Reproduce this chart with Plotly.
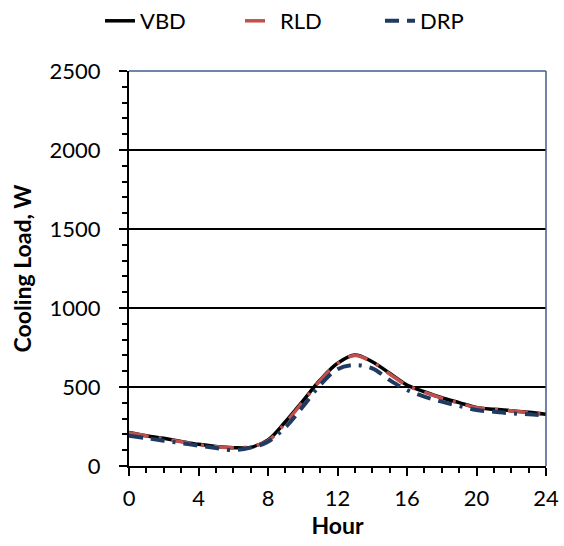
import plotly.graph_objects as go

hours = list(range(0, 25))
vbd = [213, 192, 175, 156, 137, 124, 116, 118, 165, 280, 411, 544, 650, 703, 660, 587,
       513, 470, 432, 401, 371, 359, 350, 340, 327]
rld = [210, 190, 172, 153, 135, 122, 115, 122, 160, 272, 405, 540, 648, 700, 658, 582,
       510, 468, 430, 398, 369, 358, 349, 339, 325]
drp = [192, 176, 160, 145, 129, 114, 101, 116, 154, 245, 375, 513, 612, 639, 618, 544,
       481, 439, 407, 380, 354, 344, 333, 327, 318]

y_ticks = [0, 500, 1000, 1500, 2000, 2500]
x_ticks = [0, 4, 8, 12, 16, 20, 24]

FONT = "Lato, 'Open Sans', sans-serif"

fig = go.Figure()
fig.add_trace(go.Scatter(x=hours, y=vbd, name="VBD", mode="lines",
                         line=dict(color="#000000", width=3.5, shape="spline")))
fig.add_trace(go.Scatter(x=hours, y=rld, name="RLD", mode="lines",
                         line=dict(color="#C0504D", width=3.5, shape="spline",
                                   dash="20px,10px,3px,10px")))
fig.add_trace(go.Scatter(x=hours, y=drp, name="DRP", mode="lines",
                         line=dict(color="#1F3B63", width=4, shape="spline",
                                   dash="14px,8px,14px,8px,3px,8px")))

fig.update_layout(
    width=564, height=546,
    margin=dict(l=129, r=18, t=71, b=80, autoexpand=False),
    paper_bgcolor="white", plot_bgcolor="white",
    font=dict(family=FONT, color="#000000", size=22),
    legend=dict(orientation="h", x=100 / 564, xanchor="left", xref="container",
                y=1.0, yanchor="top", yref="container", font=dict(size=22),
                entrywidth=95, entrywidthmode="pixels", traceorder="normal"),
    shapes=[
        dict(type="line", xref="x domain", yref="y domain", x0=0, x1=1, y0=1, y1=1,
             line=dict(color="#3F5E8C", width=1.5)),
        dict(type="line", xref="x domain", yref="y domain", x0=1, x1=1, y0=0, y1=1,
             line=dict(color="#3F5E8C", width=1.5)),
    ],
)

fig.update_xaxes(
    range=[0, 24], tickvals=x_ticks, ticktext=[str(v) for v in x_ticks],
    showgrid=False, zeroline=False, showline=True, linecolor="#000000", linewidth=2,
    ticks="outside", ticklen=8, tickwidth=2, tickcolor="#000000",
    minor=dict(dtick=1, ticks="outside", ticklen=5, tickwidth=1.5, tickcolor="#000000"),
    ticklabelstandoff=4, automargin=False,
    title=dict(text="<b>Hour</b>", font=dict(size=23), standoff=0),
)
fig.update_yaxes(
    range=[0, 2500], tickvals=y_ticks, ticktext=[str(v) for v in y_ticks],
    showgrid=True, gridcolor="#000000", gridwidth=1.5, zeroline=False,
    showline=True, linecolor="#000000", linewidth=2,
    ticks="outside", ticklen=8, tickwidth=2, tickcolor="#000000",
    minor=dict(dtick=100, ticks="outside", ticklen=5, tickwidth=1.5, tickcolor="#000000",
               showgrid=False),
    ticklabelstandoff=14, automargin=False,
    title=dict(text="<b>Cooling Load, W</b>", font=dict(size=23), standoff=12),
)

fig.write_html("out.html")
